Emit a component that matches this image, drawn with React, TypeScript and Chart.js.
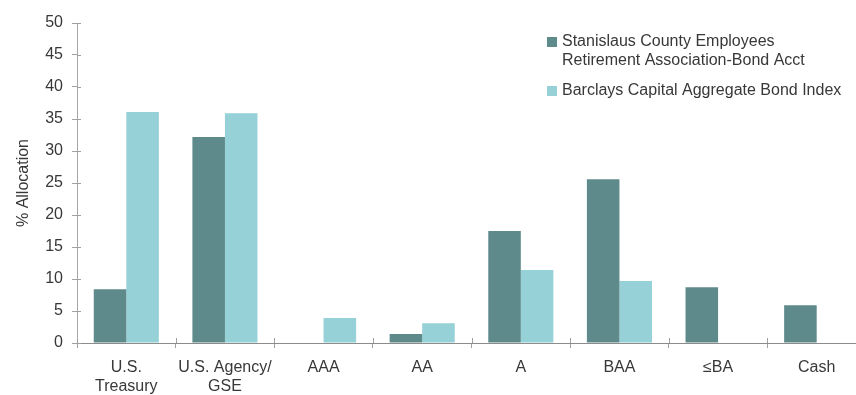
import React, { useEffect, useRef } from "react";
import { Chart, registerables } from "chart.js";

Chart.register(...registerables);

const categories: (string | string[])[] = [
  ["U.S.", "Treasury"],
  ["U.S. Agency/", "GSE"],
  "AAA",
  "AA",
  "A",
  "BAA",
  "≤BA",
  "Cash",
];

const fundLabel = ["Stanislaus County Employees", "Retirement Association-Bond Acct"];
const indexLabel = ["Barclays Capital Aggregate Bond Index"];

const fundValues = [8.4, 32.2, 0, 1.4, 17.5, 25.6, 8.7, 5.9];
const indexValues = [36.1, 35.9, 3.9, 3.1, 11.4, 9.7, 0, 0];

const yTicks = [0, 5, 10, 15, 20, 25, 30, 35, 40, 45, 50];

const FONT = "'Liberation Sans', Arial, sans-serif";
const TEXT = "#383838";
const DARK = "#5F8A8B";
const LIGHT = "#95D1D7";

// Tick marks that cross the axis lines, plus a two-line legend in the top right.
const decorPlugin = {
  id: "decor",
  afterDraw(chart: any) {
    const { ctx, chartArea, scales } = chart;
    const x = scales.x;
    const y = scales.y;
    ctx.save();
    ctx.lineWidth = 1;
    ctx.strokeStyle = "#a0a0a0";
    y.ticks.forEach((t: any) => {
      const py = Math.round(y.getPixelForValue(t.value)) + 0.5;
      ctx.beginPath();
      ctx.moveTo(chartArea.left, py);
      ctx.lineTo(chartArea.left + 4, py);
      ctx.stroke();
    });
    const half = (x.getPixelForValue(1) - x.getPixelForValue(0)) / 2;
    for (let i = 0; i <= categories.length; i++) {
      const px = Math.round(x.getPixelForValue(i) - half) + 0.5;
      ctx.beginPath();
      ctx.moveTo(px, chartArea.bottom - 5);
      ctx.lineTo(px, chartArea.bottom);
      ctx.stroke();
    }

    const items = chart.data.datasets.map((d: any) => ({
      lines: d.legendLines as string[],
      color: d.backgroundColor as string,
    }));
    ctx.font = `16px ${FONT}`;
    ctx.textBaseline = "middle";
    ctx.textAlign = "left";
    let cy = 42;
    items.forEach((it: any) => {
      ctx.fillStyle = it.color;
      ctx.fillRect(547, cy - 5, 10, 10);
      ctx.fillStyle = TEXT;
      it.lines.forEach((ln: string, k: number) => {
        ctx.fillText(ln, 562, cy + k * 19);
      });
      cy += (it.lines.length - 1) * 19 + 30;
    });
    ctx.restore();
  },
};

export default function App() {
  const ref = useRef<HTMLCanvasElement | null>(null);

  useEffect(() => {
    document.body.style.margin = "0";
    if (!ref.current) return;
    const chart = new Chart(ref.current, {
      type: "bar",
      data: {
        labels: categories,
        datasets: [
          {
            label: fundLabel.join(" "),
            legendLines: fundLabel,
            data: fundValues,
            backgroundColor: DARK,
            borderWidth: 0,
          } as any,
          {
            label: indexLabel.join(" "),
            legendLines: indexLabel,
            data: indexValues,
            backgroundColor: LIGHT,
            borderWidth: 0,
          } as any,
        ],
      },
      options: {
        responsive: false,
        animation: false,
        layout: { padding: { top: 23, right: 24, left: 0, bottom: 0 } },
        datasets: { bar: { categoryPercentage: 0.66, barPercentage: 1 } },
        plugins: {
          legend: { display: false },
          tooltip: { enabled: false },
        },
        scales: {
          x: {
            grid: {
              offset: true,
              drawOnChartArea: false,
              drawTicks: true,
              tickLength: 5,
              color: "#a0a0a0",
            },
            border: { color: "#8c8c8c", width: 1 },
            ticks: {
              color: TEXT,
              font: { family: FONT, size: 16, lineHeight: 1.2 },
              padding: 10,
              maxRotation: 0,
              autoSkip: false,
            },
            afterFit: (s: any) => {
              s.height = 52;
            },
          },
          y: {
            min: 0,
            max: 50,
            afterBuildTicks: (s: any) => {
              s.ticks = yTicks.map((v) => ({ value: v }));
            },
            grid: {
              drawOnChartArea: false,
              drawTicks: true,
              tickLength: 5,
              color: "#a0a0a0",
            },
            border: { color: "#a8a8a8", width: 1 },
            ticks: {
              color: TEXT,
              font: { family: FONT, size: 16 },
              padding: 9,
            },
            title: {
              display: true,
              text: "% Allocation",
              color: TEXT,
              font: { family: FONT, size: 16, lineHeight: 1.2 },
              padding: { top: 14, bottom: 0 },
            },
            afterFit: (s: any) => {
              s.width = 77;
            },
          },
        },
      },
      plugins: [decorPlugin],
    });
    return () => chart.destroy();
  }, []);

  return (
    <div style={{ position: "relative", width: 856, height: 395, overflow: "hidden", background: "#fff" }}>
      <canvas ref={ref} width={890} height={395} style={{ display: "block" }} />
    </div>
  );
}
